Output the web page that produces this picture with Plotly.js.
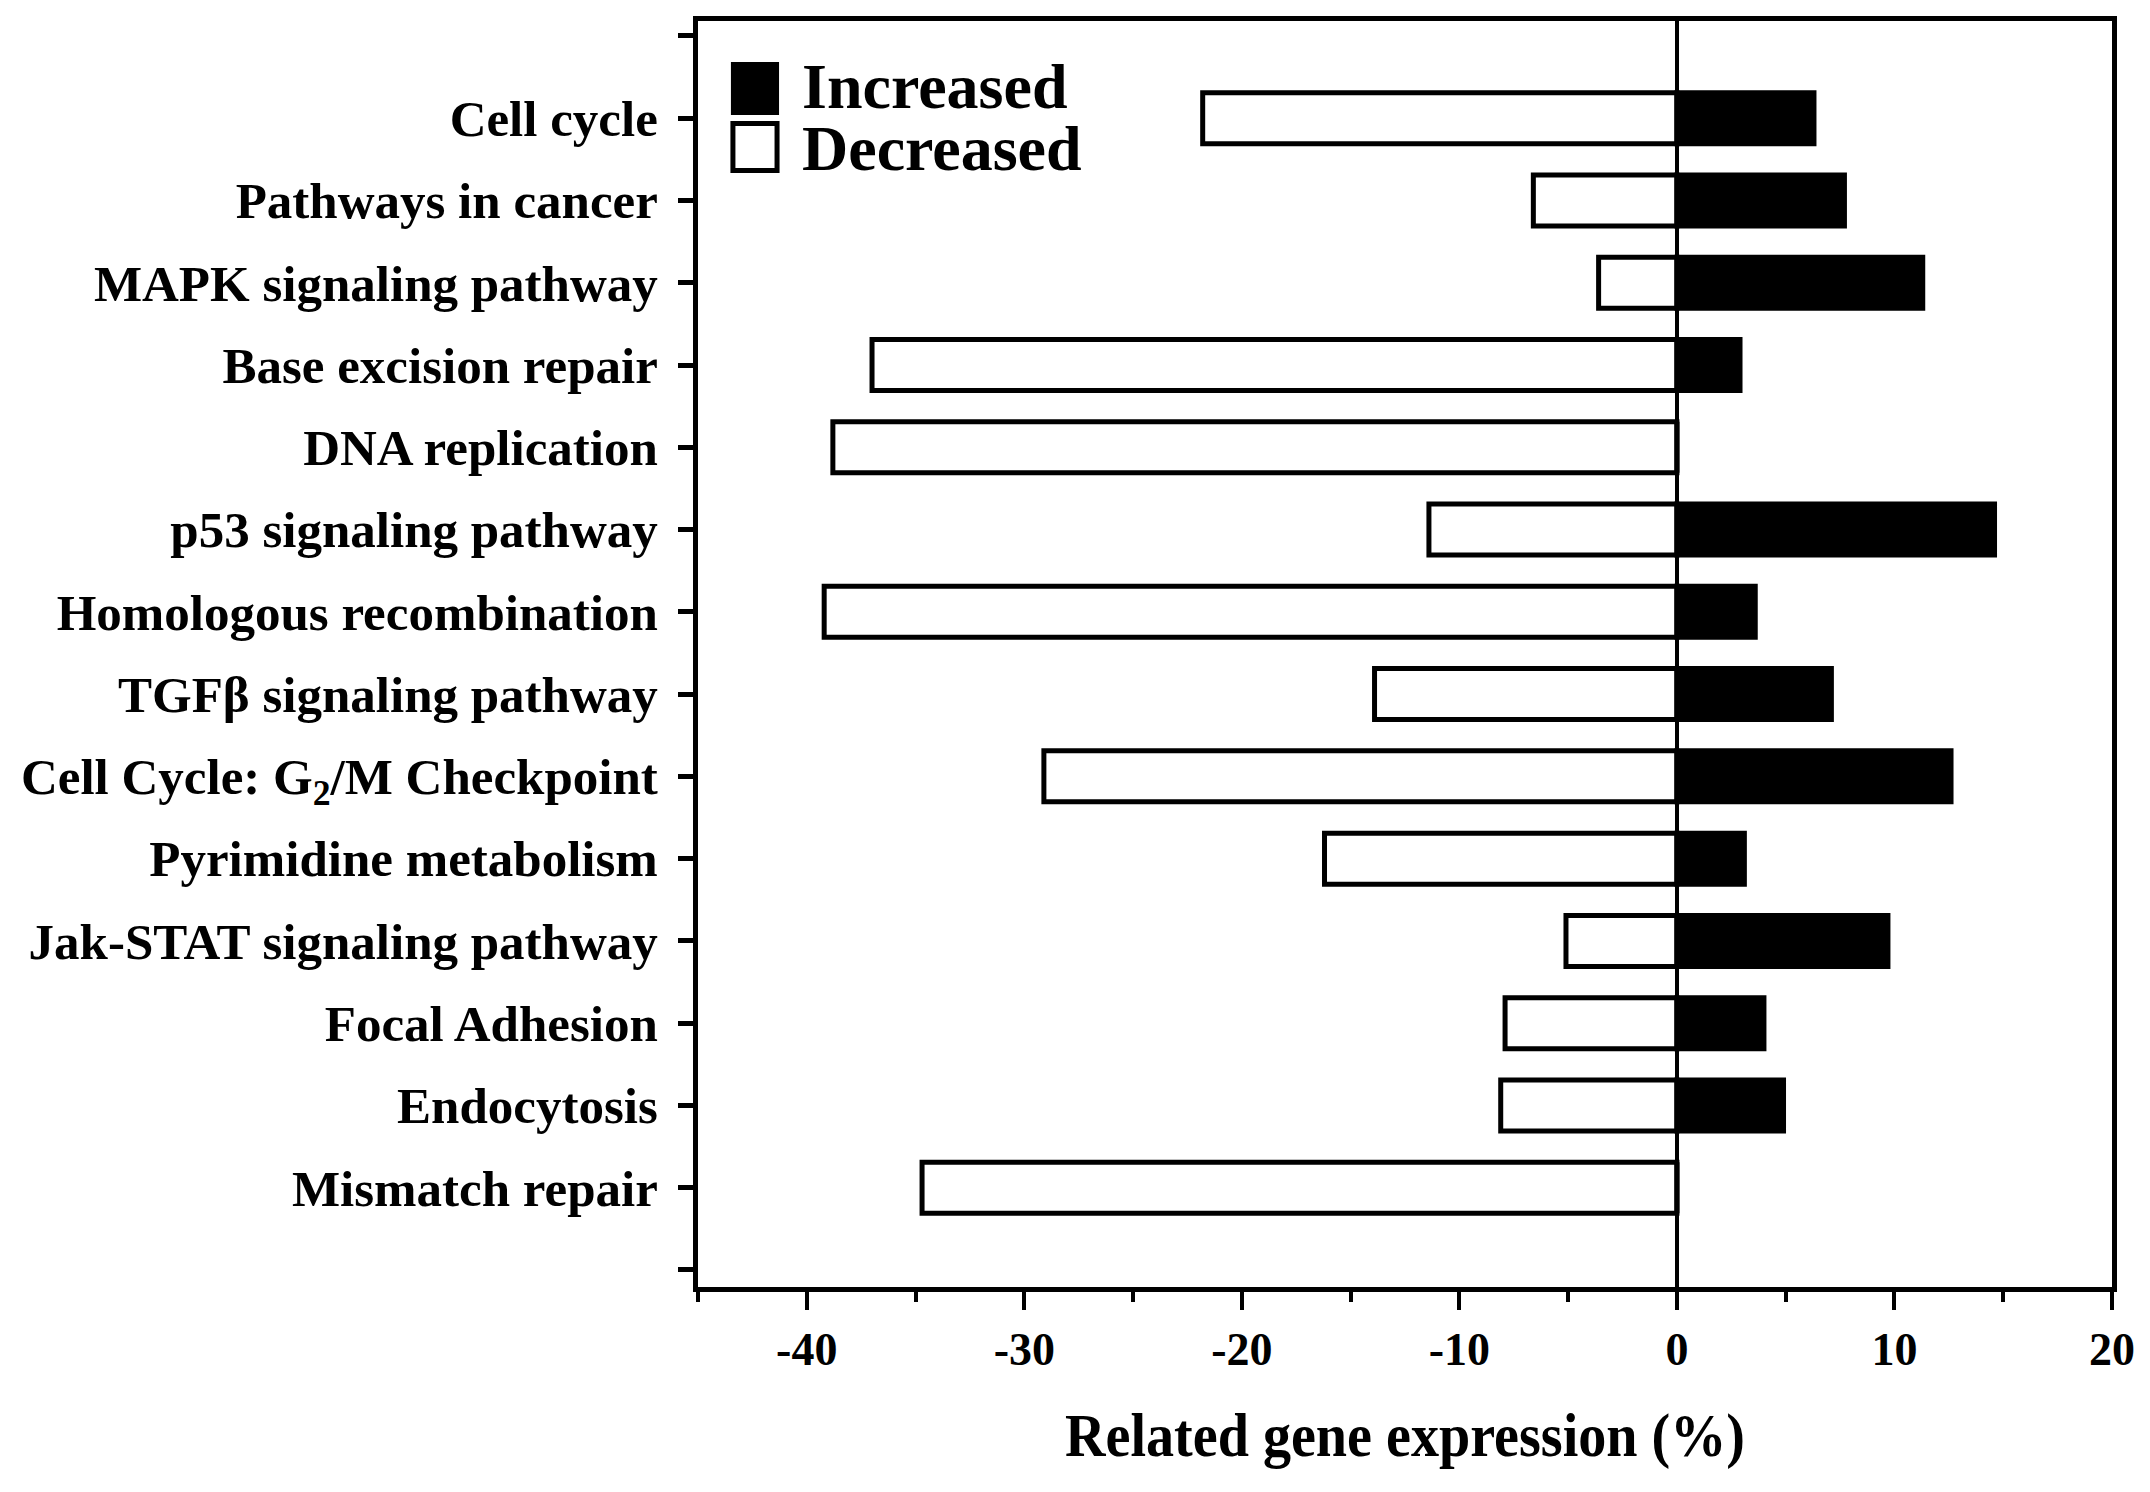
<!DOCTYPE html>
<html>
<head>
<meta charset="utf-8">
<script src="https://cdn.plot.ly/plotly-3.0.1.min.js"></script>
<style>
  html, body { margin: 0; padding: 0; background: #ffffff; }
  #chart { width: 2150px; height: 1492px; }
</style>
</head>
<body>
<div id="chart"></div>
<script>
// ---- data ----
const categories = [
  "Cell cycle",
  "Pathways in cancer",
  "MAPK signaling pathway",
  "Base excision repair",
  "DNA replication",
  "p53 signaling pathway",
  "Homologous recombination",
  "TGF\u03b2 signaling pathway",
  "Cell Cycle: G<sub>2</sub>/M Checkpoint",
  "Pyrimidine metabolism",
  "Jak-STAT signaling pathway",
  "Focal Adhesion",
  "Endocytosis",
  "Mismatch repair"
];
const increased = [6.3, 7.7, 11.3, 2.9, 0, 14.6, 3.6, 7.1, 12.6, 3.1, 9.7, 4.0, 4.9, 0];
const decreased = [-21.8, -6.6, -3.6, -37.0, -38.8, -11.4, -39.2, -13.9, -29.1, -16.2, -5.1, -7.9, -8.1, -34.7];
const xTickVals = [-40, -30, -20, -10, 0, 10, 20];
const xMinorTickVals = [-45, -35, -25, -15, -5, 5, 15];
const seriesNames = ["Increased", "Decreased"];
const xTitle = "Related gene expression (%)";

// ---- derived ----
const yPos = categories.map((_, i) => i + 1);
const yEndTicks = [0, categories.length + 1];

const FONT = "'Liberation Serif', 'Times New Roman', Times, serif";

const traces = [
  {
    type: "bar",
    orientation: "h",
    name: seriesNames[1],
    x: decreased,
    y: yPos,
    width: 0.62,
    marker: { color: "#ffffff", line: { color: "#000000", width: 5 } },
    showlegend: false,
    hoverinfo: "x+y"
  },
  {
    type: "bar",
    orientation: "h",
    name: seriesNames[0],
    x: increased,
    y: yPos,
    width: 0.62,
    marker: { color: "#000000", line: { color: "#000000", width: 5 } },
    showlegend: false,
    hoverinfo: "x+y"
  }
];

const layout = {
  width: 2150,
  height: 1492,
  margin: { l: 698, r: 38, t: 21, b: 205, pad: 0 },
  paper_bgcolor: "#ffffff",
  plot_bgcolor: "#ffffff",
  barmode: "overlay",
  font: { family: FONT, color: "#000000" },
  xaxis: {
    range: [-45, 20],
    tickmode: "array",
    tickvals: xTickVals,
    ticktext: xTickVals.map(String),
    ticks: "outside",
    ticklen: 18,
    tickwidth: 4,
    tickcolor: "#000000",
    minor: { tickmode: "array", tickvals: xMinorTickVals, ticks: "outside", ticklen: 10, tickwidth: 4, tickcolor: "#000000", showgrid: false },
    showline: true,
    linewidth: 5,
    linecolor: "#000000",
    mirror: true,
    showgrid: false,
    zeroline: true,
    zerolinewidth: 3.5,
    zerolinecolor: "#000000",
    tickfont: { family: FONT, size: 46, weight: "bold", color: "#000000" },
    title: { text: xTitle, font: { family: FONT, size: 62, weight: "bold", color: "#000000" }, standoff: 40 },
    fixedrange: true
  },
  yaxis: {
    range: [15.207, -0.182],
    tickmode: "array",
    tickvals: yPos,
    ticktext: categories,
    ticks: "outside",
    ticklen: 15,
    tickwidth: 5,
    tickcolor: "#000000",
    minor: { tickmode: "array", tickvals: yEndTicks, ticks: "outside", ticklen: 15, tickwidth: 5, tickcolor: "#000000", showgrid: false },
    showline: true,
    linewidth: 5,
    linecolor: "#000000",
    mirror: true,
    showgrid: false,
    zeroline: false,
    tickfont: { family: FONT, size: 51, weight: "bold", color: "#000000" },
    ticklabelstandoff: 10,
    fixedrange: true
  },
  shapes: [
    { type: "rect", xref: "paper", yref: "paper", x0: 0.0247, x1: 0.0559, y0: 0.9273, y1: 0.9660,
      fillcolor: "#000000", line: { color: "#000000", width: 4 } },
    { type: "rect", xref: "paper", yref: "paper", x0: 0.0247, x1: 0.0559, y0: 0.8820, y1: 0.9190,
      fillcolor: "#ffffff", line: { color: "#000000", width: 5 } }
  ],
  annotations: [
    { xref: "paper", yref: "paper", x: 0.0725, y: 0.9490, xanchor: "left", yanchor: "middle",
      height: 60, borderpad: 0, valign: "middle",
      text: seriesNames[0], showarrow: false, font: { family: FONT, size: 64, weight: "bold", color: "#000000" } },
    { xref: "paper", yref: "paper", x: 0.0725, y: 0.9000, xanchor: "left", yanchor: "middle",
      height: 60, borderpad: 0, valign: "middle",
      text: seriesNames[1], showarrow: false, font: { family: FONT, size: 64, weight: "bold", color: "#000000" } }
  ]
};

Plotly.newPlot("chart", traces, layout, { staticPlot: true, displayModeBar: false }).then(function (gd) {
  // the reference's axis title is set in a condensed cut: narrow it to the same width
  const t = gd.querySelector(".g-xtitle text");
  if (t) {
    t.setAttribute("textLength", "680");
    t.setAttribute("lengthAdjust", "spacingAndGlyphs");
  }
});
</script>
</body>
</html>
